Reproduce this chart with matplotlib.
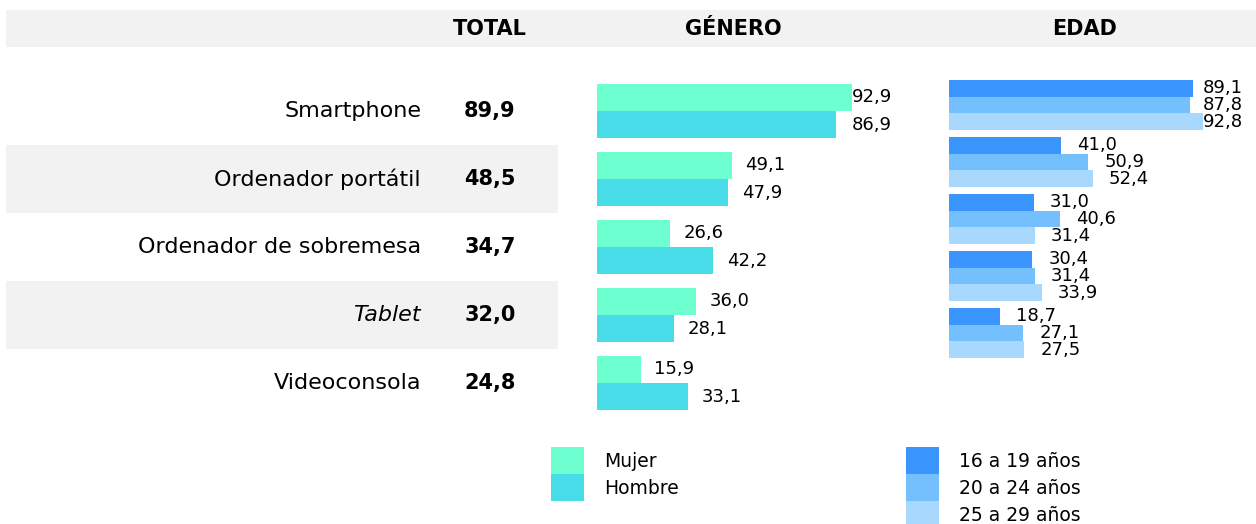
'''
dispositivos por genero y edad
'''

import numpy as np
import matplotlib.pyplot as plt
from matplotlib.patches import Rectangle

plt.rcParams['font.family'] = ['DejaVu Sans']

# datos
devices = ['Smartphone', 'Ordenador portátil', 'Ordenador de sobremesa', 'Tablet', 'Videoconsola']
total = [89.9, 48.5, 34.7, 32.0, 24.8]
mujer = [92.9, 49.1, 26.6, 36.0, 15.9]
hombre = [86.9, 47.9, 42.2, 28.1, 33.1]
edad_16_19 = [89.1, 41.0, 31.0, 30.4, 18.7]
edad_20_24 = [87.8, 50.9, 40.6, 31.4, 27.1]
edad_25_29 = [92.8, 52.4, 31.4, 33.9, 27.5]

W, H = 1256, 524
fig = plt.figure(figsize=(W/100, H/100), dpi=100)

def px_axes(x0, y0, x1, y1):
	# axes from pixel box (top-left origin)
	return fig.add_axes([x0/W, 1 - y1/H, (x1-x0)/W, (y1-y0)/H])

def fmt(v):
	return ('%.1f' % v).replace('.', ',')

# header band
fig.patches.append(Rectangle((6/W, 1-47/H), (W-6)/W, 37/H, transform=fig.transFigure,
	facecolor='#f2f2f2', edgecolor='none', zorder=0))
for txt, xc in [('TOTAL', 490), ('GÉNERO', 733), ('EDAD', 1085)]:
	fig.text(xc/W, 1-29/H, txt, ha='center', va='center', fontsize=15, fontweight='heavy')

y = np.arange(len(devices))

# labels + total
ax0 = px_axes(6, 77, 558, 417)
for i in [1, 3]:
	ax0.axhspan(i-0.5, i+0.5, color='#f2f2f2', lw=0)
for i, d in enumerate(devices):
	ax0.text(415/552, i, d, ha='right', va='center', fontsize=16,
		style='italic' if d == 'Tablet' else 'normal', transform=ax0.get_yaxis_transform())
	ax0.text(484/552, i, fmt(total[i]), ha='center', va='center', fontsize=15,
		fontweight='bold', transform=ax0.get_yaxis_transform())
ax0.set_xlim(0, 1)
ax0.set_ylim(4.5, -0.5)
ax0.axis('off')

# genero (2.745 px por unidad)
ax1 = px_axes(597, 77, 871.5, 417)
h = 0.4
ax1.barh(y - h/2, mujer, height=h, color='#6dffcf', label='Mujer')
ax1.barh(y + h/2, hombre, height=h, color='#48dce8', label='Hombre')
gmax = (892 - 597) / 2.745
for vals, off in [(mujer, -h/2), (hombre, h/2)]:
	for i in y:
		if vals[i] > 80:
			ax1.text(gmax, i + off, fmt(vals[i]), ha='right', va='center', fontsize=13, clip_on=False)
		else:
			ax1.text(vals[i] + 5, i + off, fmt(vals[i]), va='center', fontsize=13, clip_on=False)
ax1.set_xlim(0, 100)
ax1.set_ylim(4.5, -0.5)
ax1.axis('off')

# edad
ax2 = px_axes(949, 76.5, 1223, 361.5)
h2 = 0.29
cols = ['#3a96fd', '#74bffe', '#a9d8ff']
labs = ['16 a 19 años', '20 a 24 años', '25 a 29 años']
emax = (1243 - 949) / 2.74
for k, vals in enumerate([edad_16_19, edad_20_24, edad_25_29]):
	off = (k - 1) * h2
	ax2.barh(y + off, vals, height=h2, color=cols[k], label=labs[k])
	for i in y:
		if vals[i] > 80:
			ax2.text(emax, i + off, fmt(vals[i]), ha='right', va='center', fontsize=13, clip_on=False)
		else:
			ax2.text(vals[i] + 5.8, i + off, fmt(vals[i]), va='center', fontsize=13, clip_on=False)
ax2.set_xlim(0, 100)
ax2.set_ylim(4.5, -0.5)
ax2.axis('off')

# legends
h1, l1 = ax1.get_legend_handles_labels()
fig.legend(h1, l1, loc='upper left', bbox_to_anchor=(551/W, 1-447/H), frameon=False,
	handlelength=1.75, handleheight=1.84, handletextpad=1.1, labelspacing=0.0, fontsize=13.5,
	borderpad=0, borderaxespad=0)
h2_, l2 = ax2.get_legend_handles_labels()
fig.legend(h2_, l2, loc='upper left', bbox_to_anchor=(906/W, 1-447/H), frameon=False,
	handlelength=1.75, handleheight=1.84, handletextpad=1.1, labelspacing=0.0, fontsize=13.5,
	borderpad=0, borderaxespad=0)

plt.savefig('out.png', dpi=100)
